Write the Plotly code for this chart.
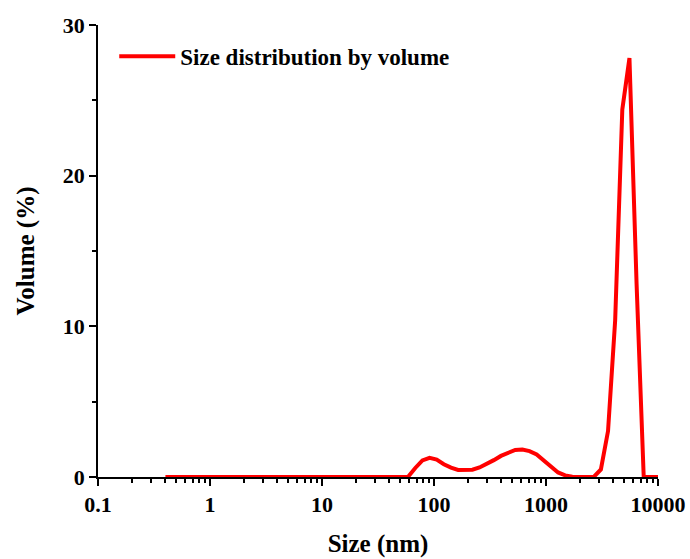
import plotly.graph_objects as go

size_nm = [0.4, 0.4632, 0.5365, 0.6213, 0.7195, 0.8332, 0.9649, 1.117, 1.294, 1.499,
           1.736, 2.01, 2.328, 2.696, 3.122, 3.615, 4.187, 4.849, 5.615, 6.503,
           7.531, 8.721, 10.1, 11.7, 13.54, 15.69, 18.17, 21.04, 24.36, 28.21,
           32.67, 37.84, 43.82, 50.75, 58.77, 68.06, 78.82, 91.28, 105.7, 122.4,
           141.8, 164.2, 190.1, 220.2, 255.0, 295.3, 342.0, 396.1, 458.7, 531.2,
           615.1, 712.4, 825.0, 955.4, 1106, 1281, 1484, 1718, 1990, 2305,
           2669, 3091, 3580, 4145, 4801, 5560, 6439, 7456, 8635, 10000]

volume_pct = [0, 0, 0, 0, 0, 0, 0, 0, 0, 0,
              0, 0, 0, 0, 0, 0, 0, 0, 0, 0,
              0, 0, 0, 0, 0, 0, 0, 0, 0, 0,
              0, 0, 0, 0, 0.02, 0.6, 1.1, 1.27, 1.15, 0.85,
              0.62, 0.47, 0.45, 0.48, 0.63, 0.86, 1.12, 1.4, 1.6, 1.8,
              1.82, 1.72, 1.5, 1.1, 0.64, 0.3, 0.11, 0.02, 0, 0,
              0, 0.5, 3.05, 10.4, 24.4, 27.8, 12.8, 0, 0, 0]

series_name = "Size distribution by volume"

FONT = "Liberation Serif, Times New Roman, serif"

fig = go.Figure()
fig.add_trace(go.Scatter(
    x=size_nm, y=volume_pct, mode="lines", name=series_name,
    line=dict(color="#ff0000", width=4),
))

fig.update_layout(
    width=690, height=559,
    margin=dict(l=98, r=32, t=25, b=82),
    paper_bgcolor="white", plot_bgcolor="white",
    font=dict(family=FONT, color="black", size=22),
    showlegend=True,
    legend=dict(
        x=0.029, y=0.931, xanchor="left", yanchor="middle",
        bgcolor="rgba(0,0,0,0)", borderwidth=0,
        font=dict(family=FONT, size=23, color="black", weight="bold"),
        itemwidth=56,
    ),
)

fig.update_xaxes(
    type="log", range=[-1, 4],
    tickmode="linear", tick0=0, dtick=1, tickformat="~g",
    showgrid=False, zeroline=False, automargin=False,
    showline=True, linecolor="black", linewidth=1.5,
    ticks="outside", ticklen=7, tickwidth=1.5, tickcolor="black",
    tickfont=dict(family=FONT, size=22, weight="bold"),
    minor=dict(ticks="outside", ticklen=4, tickwidth=1.5, tickcolor="black",
               dtick="D1", showgrid=False),
    title=dict(text="Size (nm)", font=dict(family=FONT, size=25, weight="bold"),
               standoff=18),
)

fig.update_yaxes(
    range=[0, 30],
    tickmode="linear", tick0=0, dtick=10,
    showgrid=False, zeroline=False, automargin=False,
    showline=True, linecolor="black", linewidth=1.5,
    ticks="outside", ticklen=7, tickwidth=1.5, tickcolor="black",
    tickfont=dict(family=FONT, size=22, weight="bold"),
    minor=dict(ticks="outside", ticklen=4, tickwidth=1.5, tickcolor="black",
               dtick=5, showgrid=False),
    title=dict(text="Volume (%)", font=dict(family=FONT, size=25, weight="bold"),
               standoff=21),
)

fig.write_html("out.html")
